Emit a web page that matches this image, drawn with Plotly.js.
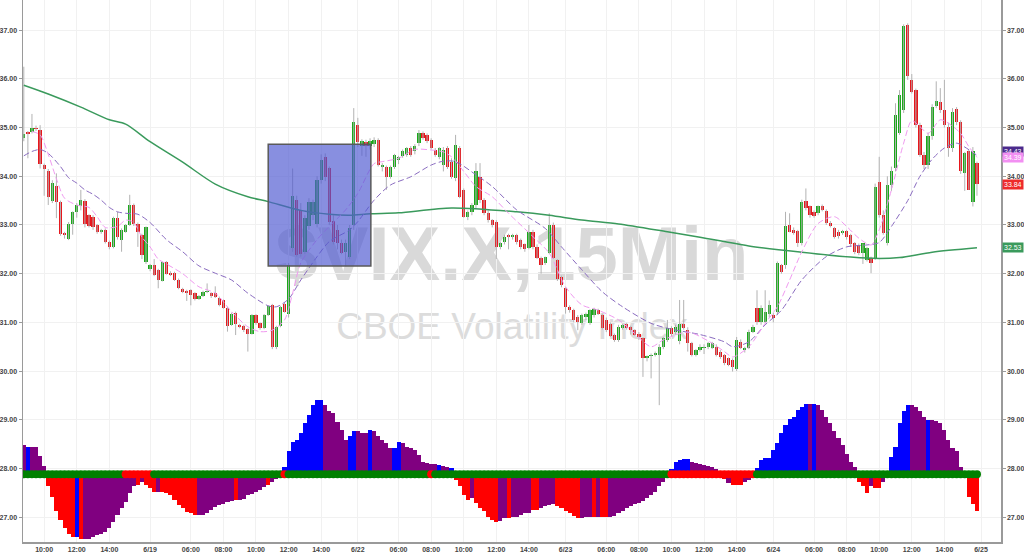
<!DOCTYPE html>
<html>
<head>
<meta charset="utf-8">
<script src="https://cdn.plot.ly/plotly-3.0.1.min.js"></script>
<style>html,body{margin:0;padding:0;background:#fff}#chart{width:1024px;height:554px}</style>
</head>
<body>
<div id="chart"></div>
<script>
// ---------- DATA ----------
const title = '$VIX.X,15Min';
const subtitle = 'CBOE Volatility Index';

const tickIdx = [5,13,21,31,41,49,57,65,73,82,92,100,108,116,124,133,143,151,159,167,175,184,194,202,210,218,226,235];
const tickText = ['10:00','12:00','14:00','6/19','06:00','08:00','10:00','12:00','14:00','6/22','06:00','08:00','10:00','12:00','14:00','6/23','06:00','08:00','10:00','12:00','14:00','6/24','06:00','08:00','10:00','12:00','14:00','6/25'];

const opens = [
34.78,34.90,34.90,34.99,34.95,34.23,34.10,33.50,33.80,33.47,
32.83,32.71,33.02,33.26,33.38,33.49,33.20,33.17,33.00,32.86,
32.90,32.66,32.55,33.15,32.70,32.86,33.00,33.41,33.03,32.80,
32.25,32.09,32.18,32.07,31.86,32.23,32.02,32.02,31.87,31.69,
31.65,31.66,31.60,31.48,31.54,31.62,31.60,31.60,31.51,31.45,
31.30,30.95,31.20,30.95,30.93,30.86,30.77,31.15,30.98,30.88,
31.15,31.36,30.50,30.93,31.38,31.17,32.52,33.51,33.31,32.45,
32.97,33.20,33.03,33.92,34.40,34.16,33.09,32.90,32.62,32.45,
32.35,33.00,35.05,34.62,34.70,34.62,34.66,34.75,34.19,34.19,
33.99,34.19,34.34,34.42,34.44,34.58,34.51,34.68,34.88,34.85,
34.74,34.54,34.40,34.23,34.58,34.30,33.96,34.58,33.72,33.17,
33.27,33.41,33.99,33.51,33.24,33.10,33.07,32.55,32.66,32.78,
32.76,32.79,32.69,32.60,32.52,32.86,32.55,32.32,32.21,32.42,
33.00,32.28,31.94,31.70,31.32,31.25,31.12,30.99,31.12,30.99,
31.15,31.25,31.15,31.05,30.97,30.74,30.64,30.88,30.97,30.91,
30.84,30.77,30.67,30.27,30.31,30.33,30.33,30.50,30.64,30.88,
30.80,30.62,30.97,30.84,30.57,30.33,30.43,30.47,30.50,30.47,
30.50,30.40,30.33,30.26,30.23,30.05,30.60,30.43,30.47,30.81,
31.29,31.01,31.01,31.18,31.15,31.22,32.18,32.18,33.00,32.90,
32.88,32.62,33.50,33.38,33.27,33.25,33.39,33.29,33.05,32.93,
32.86,32.83,32.88,32.79,32.62,32.59,32.42,32.28,32.32,32.32,
33.89,33.21,32.62,33.82,34.16,34.88,35.36,37.11,35.98,35.77,
35.05,34.44,34.23,34.82,35.45,35.53,35.36,35.02,34.58,35.38,
35.12,34.06,34.51,33.48,34.27];

const highs = [
36.25,34.93,35.28,35.04,35.05,34.26,34.15,33.92,34.06,33.50,
32.86,33.06,33.28,33.45,33.72,33.53,33.22,33.20,33.02,32.92,
32.93,32.68,33.17,33.27,32.93,33.02,33.62,33.44,33.05,32.82,
32.97,32.20,32.30,32.10,32.25,32.26,32.05,32.04,31.90,31.71,
31.67,31.68,31.62,31.56,31.65,31.80,31.62,31.74,31.53,31.47,
31.32,31.20,31.22,30.97,30.95,30.88,31.17,31.17,31.00,31.17,
31.35,31.38,30.93,31.34,31.40,32.22,34.16,33.60,33.45,33.20,
33.55,33.52,34.00,34.45,34.47,34.20,33.20,33.00,32.70,32.70,
33.00,35.40,35.20,34.76,34.75,34.78,34.80,34.78,34.27,34.22,
34.22,34.46,34.42,34.55,34.60,34.62,34.66,34.95,34.92,34.88,
34.78,34.58,34.60,34.60,34.62,34.37,34.85,34.62,33.75,33.30,
33.45,34.27,34.27,33.55,33.30,33.12,33.10,32.65,32.80,32.82,
32.82,32.82,32.72,32.62,33.00,32.90,32.60,32.35,32.35,33.24,
33.05,32.30,31.96,31.72,31.35,31.28,31.15,31.18,31.20,31.27,
31.30,31.28,31.18,31.10,31.00,30.77,30.95,30.97,30.99,30.93,
30.86,30.80,30.70,30.32,30.36,30.40,30.55,30.70,31.05,30.92,
30.95,31.46,31.46,30.90,30.60,30.45,30.55,30.55,30.60,30.60,
30.55,30.43,30.35,30.28,30.26,30.70,30.65,30.50,30.85,30.95,
31.66,31.35,31.66,31.45,31.20,32.25,32.20,33.27,33.24,32.95,
32.90,33.52,33.75,33.40,33.30,33.40,33.42,33.32,33.08,32.96,
32.90,32.90,32.90,32.82,32.65,32.62,32.62,32.55,32.35,33.85,
34.40,33.30,34.00,34.20,35.50,35.77,37.12,37.14,36.10,35.80,
35.10,34.50,34.90,35.48,35.95,35.81,35.98,35.10,35.40,35.42,
35.15,34.50,34.55,34.60,34.30];

const lows = [
34.72,34.37,34.88,34.93,34.16,33.60,33.41,33.45,33.14,32.78,
32.72,32.69,32.80,33.15,33.30,32.95,32.95,32.90,32.82,32.82,
32.62,32.50,32.52,32.70,32.45,32.84,32.98,32.98,32.55,32.30,
32.20,32.05,31.95,31.70,31.84,31.98,31.95,31.85,31.68,31.60,
31.44,31.35,31.45,31.46,31.52,31.60,31.50,31.50,31.33,31.28,
30.81,30.93,30.74,30.88,30.80,30.40,30.75,30.95,30.85,30.86,
31.13,30.45,30.45,30.90,31.20,31.10,32.45,32.35,32.35,32.40,
32.90,33.10,32.95,33.85,33.90,33.00,32.60,32.50,32.40,32.15,
32.30,32.90,34.60,34.42,34.40,34.55,34.60,34.20,34.10,33.72,
33.95,34.15,34.25,34.38,34.40,34.40,34.45,34.62,34.75,34.68,
34.55,34.40,34.35,34.10,34.15,33.95,33.90,33.55,33.15,33.10,
33.20,33.35,33.45,33.20,33.05,32.95,32.30,32.50,32.60,32.50,
32.70,32.60,32.50,32.45,32.50,32.50,32.30,32.00,32.18,32.40,
32.30,31.85,31.72,31.18,31.20,31.00,30.84,30.95,31.05,30.95,
31.10,31.15,30.85,30.80,30.70,30.60,30.60,30.85,30.85,30.75,
30.72,30.64,29.88,30.20,29.85,30.30,29.30,30.45,30.60,30.70,
30.75,30.55,30.85,30.40,30.30,30.30,30.40,30.35,30.45,30.45,
30.30,30.25,30.12,30.10,29.99,30.00,30.45,30.38,30.45,30.78,
30.95,30.95,30.98,31.10,31.00,31.15,32.00,32.10,32.85,32.80,
32.55,32.58,33.30,33.15,33.15,33.20,33.28,33.00,32.95,32.72,
32.72,32.80,32.70,32.55,32.40,32.38,32.20,32.25,32.01,32.28,
33.15,32.80,32.58,33.70,34.10,34.85,35.30,35.98,35.70,35.00,
34.40,34.15,34.15,34.75,35.40,35.30,35.00,34.40,34.50,35.05,
34.05,33.70,33.72,33.38,33.60];

const closes = [
34.87,34.86,35.00,34.97,34.25,34.14,33.58,33.87,33.47,32.81,
32.79,33.03,33.26,33.41,33.51,33.02,32.98,32.95,32.86,32.90,
32.66,32.55,33.15,32.75,32.90,33.00,33.41,33.03,32.86,32.38,
32.95,32.18,31.97,31.87,32.23,32.00,31.98,31.87,31.70,31.63,
31.60,31.56,31.48,31.54,31.63,31.65,31.55,31.53,31.36,31.30,
30.93,31.18,30.97,30.91,30.84,30.76,31.15,30.98,30.88,31.15,
31.33,30.50,30.91,31.32,31.22,32.18,33.59,32.39,32.41,33.14,
33.48,33.48,33.92,34.34,33.99,33.07,32.66,32.62,32.43,32.62,
32.93,35.12,34.70,34.72,34.62,34.72,34.74,34.23,34.23,33.99,
34.19,34.44,34.40,34.51,34.58,34.44,34.62,34.88,34.78,34.72,
34.58,34.44,34.58,34.55,34.20,33.99,34.64,33.58,33.17,33.27,
33.41,34.10,33.51,33.24,33.10,33.00,32.55,32.62,32.76,32.76,
32.80,32.66,32.55,32.50,32.86,32.55,32.32,32.18,32.35,33.00,
32.32,31.90,31.77,31.32,31.25,31.05,31.01,31.15,31.17,31.25,
31.27,31.18,30.88,30.84,30.72,30.64,30.91,30.95,30.88,30.84,
30.74,30.69,30.26,30.31,30.33,30.37,30.50,30.67,30.88,30.77,
30.91,30.97,30.88,30.57,30.33,30.43,30.50,30.50,30.57,30.57,
30.33,30.29,30.16,30.12,30.09,30.64,30.47,30.47,30.81,30.91,
31.01,31.29,31.22,31.36,31.08,32.21,32.04,32.97,32.86,32.83,
32.62,33.48,33.34,33.21,33.18,33.38,33.31,33.05,32.97,32.76,
32.77,32.88,32.76,32.61,32.45,32.42,32.62,32.52,32.21,33.79,
33.21,32.83,33.82,34.10,35.26,35.67,37.08,36.05,35.74,35.05,
34.44,34.23,34.82,35.43,35.55,35.36,35.05,34.58,35.33,35.12,
34.10,34.47,33.72,34.51,33.84];

// long moving average (green), sampled at bar indices
const greenIdx  = [0,6,14,21,25,31,39,47,55,60,68,75,80,85,92,105,121,129,137,146,158,166,178,191,203,210,215,223,234];
const greenVals = [35.87,35.69,35.42,35.16,35.07,34.71,34.29,33.84,33.58,33.48,33.30,33.22,33.20,33.23,33.25,33.35,33.27,33.20,33.10,33.02,32.86,32.75,32.57,32.44,32.34,32.31,32.33,32.44,32.53];

// slow moving average (purple dashed)
const purpleIdx  = [0,2,4,6,9,11,13,15,17,19,21,23,25,28,31,35,39,43,47,51,55,60,62,65,68,72,75,80,82,86,90,95,100,103,106,111,115,121,128,132,137,142,147,154,159,166,172,174,178,182,186,191,197,202,207,210,213,217,220,223,226,229,231,234];
const purpleVals = [34.42,34.51,34.55,34.47,34.20,33.97,33.86,33.72,33.63,33.51,33.36,33.27,33.24,33.22,33.05,32.70,32.45,32.16,32.01,31.87,31.60,31.34,31.32,31.48,31.87,32.35,32.66,32.90,33.07,33.51,33.82,33.99,34.23,34.31,34.30,34.03,33.79,33.31,32.93,32.55,32.08,31.63,31.32,30.98,30.86,30.75,30.60,30.50,30.60,30.95,31.25,31.87,32.35,32.55,32.59,32.64,32.97,33.50,34.00,34.35,34.58,34.68,34.60,34.43];

// fast moving average (pink dashed)
const pinkIdx  = [2,4,6,8,10,13,16,18,20,23,25,27,29,31,33,35,39,43,47,51,55,58,61,64,66,68,72,75,79,82,86,88,92,96,100,103,105,108,111,115,119,125,129,133,137,141,146,150,154,157,163,168,172,174,178,182,185,188,191,195,199,202,205,208,210,213,216,218,220,222,225,227,230,232,234];
const pinkVals = [34.92,34.85,34.45,33.95,33.55,33.41,33.36,33.17,32.95,32.97,33.10,33.05,32.75,32.55,32.30,32.20,32.00,31.73,31.60,31.22,30.91,30.81,30.84,31.05,31.60,32.22,32.70,32.97,33.31,33.65,34.26,34.30,34.37,34.55,34.54,34.50,34.40,34.10,33.79,33.58,33.24,32.76,32.42,31.73,31.36,31.25,31.05,30.77,30.50,30.64,30.80,30.62,30.40,30.29,30.50,30.98,31.32,31.87,32.45,33.03,33.17,32.97,32.73,32.59,32.90,33.72,34.68,35.14,35.02,34.88,35.16,35.09,34.88,34.61,34.39];

// momentum histogram (height from its zero line, price-axis units), one per bar
const histVals = [
0.60,0.57,0.57,0.57,0.38,0.17,
-0.25,-0.46,-0.76,-0.94,-1.11,-1.22,-1.28,
-1.28,-1.33,-1.33,-1.33,-1.29,-1.24,-1.23,-1.19,-1.11,-0.97,-0.83,-0.70,-0.56,-0.39,-0.25,
-0.22,-0.15,-0.22,-0.29,-0.36,-0.36,-0.37,-0.39,-0.42,-0.53,-0.63,-0.70,-0.77,-0.80,-0.84,
-0.84,-0.84,-0.80,-0.73,-0.67,-0.63,-0.60,-0.56,-0.54,
-0.53,-0.52,-0.50,-0.43,-0.40,-0.36,-0.33,-0.27,
-0.22,-0.15,-0.10,-0.05,
0.16,0.47,0.67,0.71,0.85,1.05,1.22,1.43,1.52,1.52,
1.43,1.29,1.25,1.08,0.91,0.71,
0.78,0.88,0.88,0.84,0.84,0.91,0.88,0.78,0.71,0.64,0.54,
0.54,0.67,0.64,0.57,0.54,0.50,0.40,0.26,0.24,0.22,0.22,
0.19,0.17,0.14,0.12,
-0.11,-0.25,-0.42,-0.52,-0.49,-0.59,-0.69,-0.76,-0.87,-0.94,-0.97,
-0.95,-0.90,-0.90,-0.88,-0.88,-0.84,-0.80,-0.79,
-0.73,-0.73,-0.69,-0.65,-0.63,-0.61,
-0.65,-0.69,-0.76,-0.80,-0.85,-0.90,
-0.90,-0.87,-0.87,-0.87,-0.87,-0.87,-0.88,
-0.87,-0.85,-0.80,-0.76,-0.69,-0.65,-0.61,-0.58,-0.54,-0.49,-0.42,-0.36,-0.25,-0.15,-0.08,
0.10,0.26,0.29,0.31,0.32,
0.26,0.24,0.21,0.19,0.17,0.14,0.10,
-0.05,-0.10,-0.18,-0.22,-0.22,-0.22,-0.15,-0.12,-0.08,
0.12,0.29,0.33,0.33,0.50,0.64,0.84,1.01,1.13,1.18,1.32,1.38,1.44,
1.44,1.44,1.42,1.32,1.18,1.05,0.88,0.74,0.60,0.42,0.26,0.14,
-0.15,-0.25,-0.39,-0.25,-0.28,-0.28,-0.15,-0.05,
0.36,0.57,1.05,1.29,1.42,
1.42,1.38,1.29,1.18,1.11,1.11,1.10,1.05,0.91,0.71,0.54,0.47,0.14,
-0.08,-0.46,-0.60,-0.75];

// histogram colour runs (B = blue, P = purple, R = red), [code, count]
const histColorRuns = [['P',1],['B',1],['P',4],['R',7],['B',1],['R',1],['P',13],['R',1],['P',1],['R',3],['P',1],['R',9],['P',9],['R',1],['P',7],['R',1],['P',3],['B',10],['P',6],['B',2],['P',3],['B',1],['P',5],['B',2],['P',9],['B',1],['P',2],['B',1],['R',4],['P',1],['R',6],['P',2],['R',1],['P',5],['R',2],['P',4],['R',6],['P',3],['R',1],['P',1],['R',2],['P',15],['B',5],['P',7],['R',2],['P',1],['R',3],['P',3],['B',13],['P',1],['B',1],['P',10],['R',3],['P',1],['R',2],['P',2],['B',5],['P',4],['B',1],['P',8],['R',4]];

// squeeze dots along the zero line (G = green, R = red), [code, count]
const dotRuns = [['G',25],['R',7],['G',32],['R',1],['G',35],['R',1],['G',58],['R',21],['G',55]];

// highlight box drawn on the chart: bar span and price span
const boxBars = [60, 85.2];
const boxPrices = [32.16, 34.66];

// ---------- STYLE ----------
const GREEN = '#1aa91a', RED = '#e8161c', WICK = '#b2b2b2';
const HIST_ZERO = 27.88;
const histPalette = {B:'#0000ff', P:'#800080', R:'#ff0000'};
const dotPalette = {G:'#008000', R:'#ff0000'};
const expand = runs => runs.flatMap(([c,n]) => Array(n).fill(c));

const idx = opens.map((_, i) => i);
const bodyBase = opens.map((o, i) => Math.min(o, closes[i]));
const bodyH = opens.map((o, i) => Math.max(Math.abs(closes[i] - o), 0.025));
const bodyCol = opens.map((o, i) => closes[i] >= o ? GREEN : RED);
const wx = [], wy = [];
idx.forEach(i => { wx.push(i, i, null); wy.push(lows[i], highs[i], null); });

const histCol = expand(histColorRuns).map(c => histPalette[c]);
const dotCol = expand(dotRuns).map(c => dotPalette[c]);

const traces = [
  {type:'bar', x: idx, y: histVals, base: HIST_ZERO, width: 1,
   marker:{color: histCol, line:{width:0}}, hoverinfo:'skip', showlegend:false},
  {type:'scatter', mode:'markers', x: idx, y: idx.map(() => HIST_ZERO),
   marker:{color: dotCol, size: 8, line:{width:0}}, hoverinfo:'skip', showlegend:false},
  {type:'scatter', mode:'lines', x: wx, y: wy, line:{color: WICK, width: 1},
   connectgaps:false, hoverinfo:'skip', showlegend:false},
  {type:'bar', x: idx, y: bodyH, base: bodyBase, width: 0.8,
   marker:{color: bodyCol, line:{width:0}}, hoverinfo:'skip', showlegend:false},
  {type:'scatter', mode:'lines', x: greenIdx, y: greenVals,
   line:{color:'#3a9a5c', width:1.5, shape:'spline', smoothing:0.8}, hoverinfo:'skip', showlegend:false},
  {type:'scatter', mode:'lines', x: purpleIdx, y: purpleVals,
   line:{color:'#8a6cc0', width:1, dash:'6px,3px', shape:'spline', smoothing:0.8}, hoverinfo:'skip', showlegend:false},
  {type:'scatter', mode:'lines', x: pinkIdx, y: pinkVals,
   line:{color:'#f09af0', width:1, dash:'6px,3px', shape:'spline', smoothing:0.8}, hoverinfo:'skip', showlegend:false},
  {type:'scatter', mode:'markers', x:[0], y:[closes[0]], yaxis:'y2',
   marker:{opacity:0}, hoverinfo:'skip', showlegend:false}
];

const last = a => a[a.length - 1];
const rightLabels = [
  {v: last(purpleVals), bg:'#4b2a8c', fg:'#ffffff', shift:4},
  {v: last(pinkVals),   bg:'#f28ff2', fg:'#ffffff', shift:0},
  {v: last(closes),     bg:'#ee2b2b', fg:'#ffffff', shift:0},
  {v: last(greenVals),  bg:'#3a9a5c', fg:'#ffffff', shift:0}
];

const tickFont = {family:'Liberation Sans, Arial, sans-serif', size:7, color:'#444', weight:'bold'};
const yBase = {
  range:[26.49, 37.62], tick0:27, dtick:1, tickformat:'.2f',
  showline:true, linecolor:'#9a9a9a', linewidth:1.5, ticks:'outside', ticklen:3, tickcolor:'#9a9a9a',
  tickfont: tickFont, zeroline:false, automargin:false, fixedrange:true
};

const layout = {
  width:1024, height:554,
  margin:{l:23, r:23, t:0, b:12, pad:0},
  paper_bgcolor:'#ffffff', plot_bgcolor:'#ffffff',
  barmode:'overlay', bargap:0, showlegend:false,
  xaxis:{range:[-0.2, 239.9], tickmode:'array', tickvals: tickIdx, ticktext: tickText,
    showgrid:true, gridcolor:'#f1f1f1', gridwidth:1,
    showline:true, linecolor:'#9a9a9a', linewidth:1.5, ticks:'',
    tickfont: tickFont, zeroline:false, automargin:false, fixedrange:true},
  yaxis: Object.assign({}, yBase, {side:'left', showgrid:true, gridcolor:'#f1f1f1', gridwidth:1}),
  yaxis2: Object.assign({}, yBase, {side:'right', overlaying:'y', showgrid:false}),
  shapes:[
    {type:'rect', xref:'paper', yref:'paper', x0:0.1, x1:0.9, y0:0.49, y1:0.60,
     line:{width:0}, fillcolor:'rgba(0,0,0,0)', layer:'between',
     label:{text: title, textposition:'middle center',
            font:{family:'Liberation Sans, Arial, sans-serif', size:76, color:'#d9d9d9', weight:'bold'}}},
    {type:'rect', xref:'paper', yref:'paper', x0:0.1, x1:0.9, y0:0.37, y1:0.44,
     line:{width:0}, fillcolor:'rgba(0,0,0,0)', layer:'between',
     label:{text: subtitle, textposition:'middle center',
            font:{family:'Liberation Sans, Arial, sans-serif', size:37, color:'#dcdcdc'}}},
    {type:'rect', xref:'x', yref:'y', x0: boxBars[0], x1: boxBars[1], y0: boxPrices[0], y1: boxPrices[1],
     fillcolor:'rgba(80,90,210,0.68)', line:{color:'#5a5a5a', width:1.5}, layer:'above'}
  ],
  annotations: rightLabels.map(l => ({
    xref:'paper', x:1, xanchor:'left', xshift:1, yref:'y', y:l.v, yanchor:'middle', yshift:l.shift,
    text: l.v.toFixed(2), showarrow:false, bgcolor:l.bg, borderpad:1,
    font:{family:'Liberation Sans, Arial, sans-serif', size:7, color:l.fg}
  }))
};

Plotly.newPlot('chart', traces, layout, {staticPlot:true, displayModeBar:false});
</script>
</body>
</html>
